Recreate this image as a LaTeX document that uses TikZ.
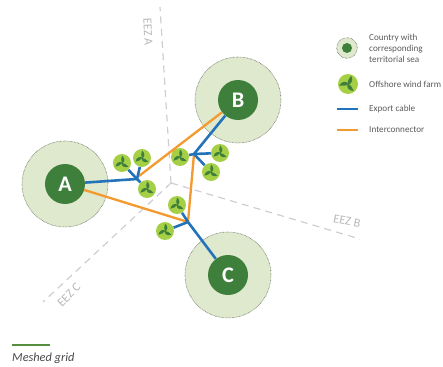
\documentclass[tikz,border=0pt]{standalone}
\usepackage{fontspec}
\setmainfont{Carlito}
\usepackage{xcolor}
\usetikzlibrary{positioning}
\definecolor{seagreen}{HTML}{DFE9CD}
\definecolor{landgreen}{HTML}{3F7F3C}
\definecolor{farmgreen}{HTML}{A5CF45}
\definecolor{cableblue}{HTML}{2273BA}
\definecolor{linkorange}{HTML}{F39B30}
\definecolor{eezgrey}{HTML}{CDCDD2}
\definecolor{legendgrey}{HTML}{5A5A5A}
% wind farm with three blades, #1 = name, #2 = x, #3 = y, #4 = style, #5 = blade length, #6 = start angle
\newcommand{\drawfarm}[6]{
	\node[#4] (#1) at (#2,#3) {};
	\foreach \bladeangle in {0,120,240}{
		\fill[landgreen, shift={(#1.center)}, y=0.03cm, rotate=#6+\bladeangle]
			(0,-0.6) .. controls (0.45*#5,0.2*#5) and (0.4*#5,0.65*#5) .. (0,#5)
			.. controls (-0.02*#5,0.65*#5) and (-0.25*#5,0.3*#5) .. (0,-0.6);
	}
}
\tikzset{
	sea/.style={circle, fill=seagreen, draw=black!55!seagreen, line width=0.5pt, dash pattern=on 0.5pt off 0.7pt, minimum size=2.58cm, inner sep=0pt},
	country/.style={circle, fill=landgreen, text=white, font=\fontsize{19}{19}\selectfont\bfseries, minimum size=1.2cm, inner sep=0pt},
	farm/.style={circle, fill=farmgreen, minimum size=0.54cm, inner sep=0pt},
	farmkey/.style={circle, fill=farmgreen, minimum size=0.6cm, inner sep=0pt},
	eez/.style={eezgrey, line width=1pt, dash pattern=on 6pt off 4.5pt},
	eezlabel/.style={text=eezgrey!90!black, font=\fontsize{10.5}{10.5}\selectfont},
	export/.style={cableblue, line width=2.2pt},
	link/.style={linkorange, line width=2pt},
	keytext/.style={text=legendgrey, font=\fontsize{7.8}{9.4}\selectfont, align=left, anchor=west, inner sep=0pt},
}
\begin{document}
\begin{tikzpicture}[x=0.03cm, y=-0.03cm]
	\useasboundingbox (0,0) rectangle (443,367);

	% EEZ borders
	\coordinate (eezO) at (171,183);
	\coordinate (eezAend) at (160,7);
	\coordinate (eezBend) at (360,239);
	\coordinate (eezCend) at (43,302);
	\draw[eez] (eezO) -- (eezAend);
	\draw[eez] (eezO) -- (eezBend);
	\draw[eez] (eezO) -- (eezCend);
	\node[eezlabel, rotate=-87] (eezA) at (148,32) {EEZ A};
	\node[eezlabel, rotate=-11] (eezB) at (347,221) {EEZ B};
	\node[eezlabel, rotate=45] (eezC) at (69,295) {EEZ C};

	% territorial seas
	\node[sea] (seaA) at (65,184) {};
	\node[sea] (seaB) at (238,100) {};
	\node[sea] (seaC) at (228,275) {};

	% countries
	\node[country] (A) at (65,184) {A};
	\node[country] (B) at (238,100) {B};
	\node[country] (C) at (228,275) {C};

	% wind farms
	\drawfarm{farmAa}{122}{163}{farm}{7.5}{0}
	\drawfarm{farmAb}{142}{158}{farm}{7.5}{0}
	\drawfarm{farmAc}{147}{189}{farm}{7.5}{0}
	\drawfarm{farmBa}{180}{157}{farm}{7.5}{0}
	\drawfarm{farmBb}{220}{153}{farm}{7.5}{0}
	\drawfarm{farmBc}{211}{172}{farm}{7.5}{0}
	\drawfarm{farmCa}{177}{205}{farm}{7.5}{0}
	\drawfarm{farmCb}{165}{231}{farm}{7.5}{0}

	% hubs
	\coordinate (hubA) at (137,179);
	\coordinate (hubB) at (194,154);
	\coordinate (hubC) at (188,222);
	\coordinate (linkA) at (139,176);

	% interconnectors
	\draw[link] (A) -- (hubC);
	\draw[link] (hubC) -- (hubB);
	\draw[link] (linkA) -- (B);

	% export cables
	\draw[export] (A) -- (hubA);
	\draw[export] (hubA) -- (farmAa);
	\draw[export] (hubA) -- (farmAb);
	\draw[export] (hubA) -- (farmAc);
	\draw[export] (B) -- (hubB);
	\draw[export] (hubB) -- (farmBa);
	\draw[export] (hubB) -- (farmBb);
	\draw[export] (hubB) -- (farmBc);
	\draw[export] (C) -- (hubC);
	\draw[export] (hubC) -- (farmCa);
	\draw[export] (hubC) -- (farmCb);

	% legend
	\node[sea, minimum size=0.62cm] (keySea) at (347,48) {};
	\node[country, minimum size=0.3cm] (keyLand) at (347,48) {};
	\drawfarm{keyFarm}{348}{84}{farmkey}{9}{-20}
	\coordinate (keyBlueL) at (337,109);
	\coordinate (keyBlueR) at (358,109);
	\coordinate (keyOrangeL) at (337,130);
	\coordinate (keyOrangeR) at (358,130);
	\draw[export] (keyBlueL) -- (keyBlueR);
	\draw[link] (keyOrangeL) -- (keyOrangeR);
	\node[keytext] (keyTextSea) at (369,48) {Country with\\corresponding\\territorial sea};
	\node[keytext] (keyTextFarm) at (369,84) {Offshore wind farm};
	\node[keytext] (keyTextBlue) at (369,109) {Export cable};
	\node[keytext] (keyTextOrange) at (369,130) {Interconnector};

	% caption
	\coordinate (gridL) at (12,345);
	\coordinate (gridR) at (50,345);
	\draw[landgreen!80!farmgreen, line width=1.5pt] (gridL) -- (gridR);
	\node[text=legendgrey!80!black, font=\fontsize{10.5}{10.5}\selectfont\itshape, anchor=west, inner sep=0pt] (gridText) at (12,358) {Meshed grid};
\end{tikzpicture}
\end{document}
